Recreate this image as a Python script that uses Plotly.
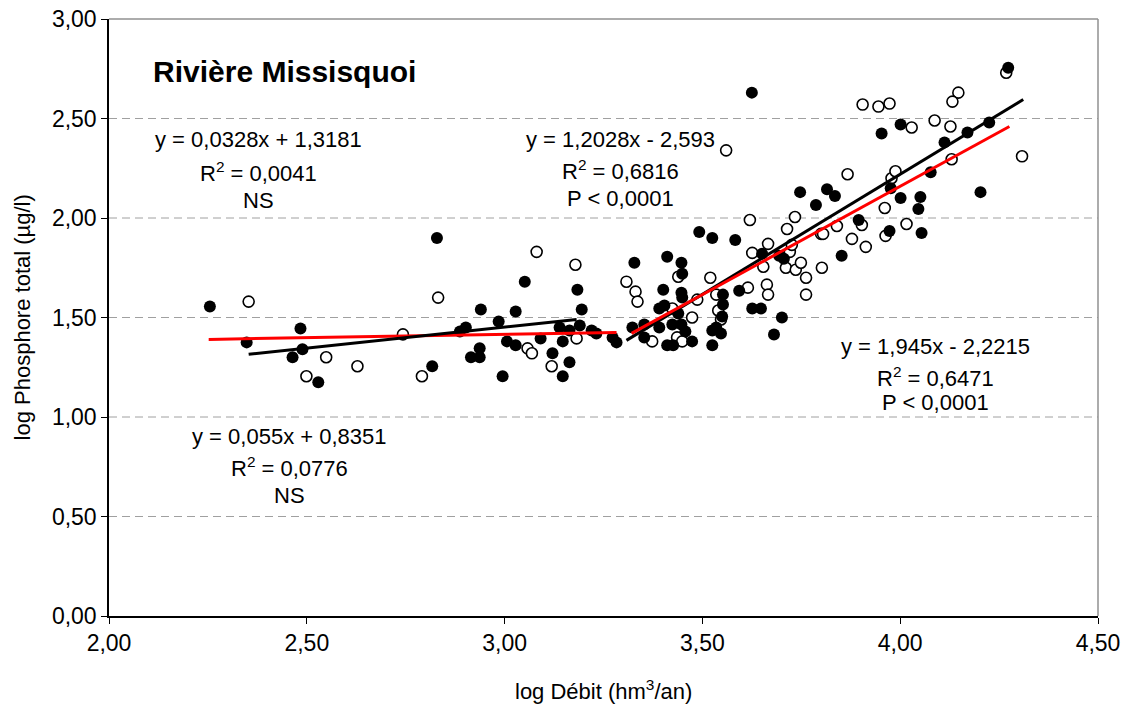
import plotly.graph_objects as go

# ---- Data ----
open_x = [2.353, 2.832, 2.549, 2.743, 2.628, 2.791, 2.499, 3.081, 3.179, 3.308,
          3.331, 3.336, 3.182, 3.058, 3.069, 3.119, 3.620, 3.666, 3.626, 3.439,
          3.520, 3.654, 3.663, 3.666, 3.615, 3.487, 3.535, 3.424, 3.540, 3.547,
          3.474, 3.373, 3.436, 3.449, 3.560, 3.867, 3.978, 3.988, 3.961, 3.734,
          3.903, 3.714, 3.840, 3.963, 3.800, 3.805, 3.878, 3.913, 3.721, 3.726,
          3.711, 3.736, 3.749, 3.802, 3.762, 3.762, 4.268, 4.147, 4.132, 3.905,
          3.945, 3.973, 4.087, 4.127, 4.029, 4.308, 4.130, 4.016]
open_y = [1.580, 1.600, 1.300, 1.415, 1.255, 1.205, 1.205, 1.830, 1.765, 1.680,
          1.630, 1.580, 1.395, 1.345, 1.320, 1.255, 1.990, 1.870, 1.825, 1.705,
          1.700, 1.755, 1.665, 1.615, 1.650, 1.590, 1.615, 1.545, 1.535, 1.490,
          1.500, 1.380, 1.400, 1.380, 2.340, 2.220, 2.200, 2.235, 2.050, 2.005,
          1.965, 1.945, 1.960, 1.910, 1.920, 1.920, 1.895, 1.855, 1.830, 1.865,
          1.750, 1.740, 1.775, 1.750, 1.700, 1.615, 2.730, 2.630, 2.585, 2.570,
          2.560, 2.575, 2.490, 2.460, 2.455, 2.310, 2.295, 1.970]

filled_x = [2.255, 2.348, 2.484, 2.489, 2.464, 2.529, 2.829, 2.817, 3.051, 3.328,
            3.184, 2.940, 3.028, 3.195, 2.985, 2.902, 2.887, 3.139, 3.164, 3.190,
            3.220, 3.232, 3.273, 3.283, 3.091, 3.006, 3.028, 3.147, 2.937, 2.915,
            2.937, 3.121, 3.164, 2.995, 3.147, 3.492, 3.525, 3.583, 3.651, 3.411,
            3.447, 3.449, 3.593, 3.401, 3.447, 3.449, 3.552, 3.552, 3.391, 3.404,
            3.439, 3.550, 3.626, 3.648, 3.681, 3.323, 3.353, 3.391, 3.424, 3.447,
            3.457, 3.525, 3.535, 3.547, 3.353, 3.474, 3.411, 3.426, 3.525, 3.953,
            3.976, 3.747, 3.815, 3.835, 3.787, 3.895, 3.973, 3.694, 3.706, 3.852,
            3.701, 4.273, 4.001, 4.225, 4.170, 4.112, 4.077, 4.001, 4.051, 4.046,
            4.203, 4.054, 3.625]
filled_y = [1.555, 1.375, 1.445, 1.340, 1.300, 1.175, 1.900, 1.255, 1.680, 1.775,
            1.640, 1.540, 1.530, 1.540, 1.480, 1.450, 1.430, 1.450, 1.435, 1.460,
            1.435, 1.420, 1.400, 1.375, 1.395, 1.380, 1.360, 1.380, 1.345, 1.300,
            1.300, 1.320, 1.275, 1.205, 1.205, 1.930, 1.900, 1.890, 1.820, 1.805,
            1.775, 1.720, 1.635, 1.640, 1.625, 1.600, 1.615, 1.565, 1.545, 1.560,
            1.520, 1.505, 1.545, 1.545, 1.415, 1.450, 1.465, 1.450, 1.465, 1.465,
            1.430, 1.435, 1.450, 1.420, 1.400, 1.380, 1.360, 1.360, 1.360, 2.425,
            2.150, 2.130, 2.145, 2.110, 2.065, 1.990, 1.935, 1.810, 1.795, 1.810,
            1.500, 2.755, 2.470, 2.480, 2.430, 2.380, 2.230, 2.100, 2.105, 2.045,
            2.130, 1.925, 2.630]

# Trend line end points (x range, y at ends)
black_left_x = [2.353, 3.182]
black_left_y = [1.315, 1.490]
red_left_x = [2.252, 3.283]
red_left_y = [1.390, 1.425]
black_right_x = [3.308, 4.311]
black_right_y = [1.385, 2.595]
red_right_x = [3.321, 4.276]
red_right_y = [1.420, 2.460]

x_ticks = [2.0, 2.5, 3.0, 3.5, 4.0, 4.5]
x_tick_labels = ["2,00", "2,50", "3,00", "3,50", "4,00", "4,50"]
y_ticks = [0.0, 0.5, 1.0, 1.5, 2.0, 2.5, 3.0]
y_tick_labels = ["0,00", "0,50", "1,00", "1,50", "2,00", "2,50", "3,00"]

title_text = "Rivière Missisquoi"
eq_blocks = [
    (2.377, [2.392, 2.231, 2.090], ["y = 0,0328x + 1,3181", "R<sup>2</sup> = 0,0041", "NS"]),
    (3.292, [2.392, 2.241, 2.100], ["y = 1,2028x - 2,593", "R<sup>2</sup> = 0,6816", "P < 0,0001"]),
    (4.090, [1.352, 1.201, 1.075], ["y = 1,945x - 2,2215", "R<sup>2</sup> = 0,6471", "P < 0,0001"]),
    (2.4575, [0.900, 0.749, 0.608], ["y = 0,055x + 0,8351", "R<sup>2</sup> = 0,0776", "NS"]),
]

FONT = "Liberation Sans, Arial, sans-serif"
TXT = 22
TICK = 23

fig = go.Figure()

fig.add_trace(go.Scatter(
    x=open_x, y=open_y, mode="markers", showlegend=False,
    marker=dict(symbol="circle", size=11, color="white",
                line=dict(color="black", width=1.6)),
))
fig.add_trace(go.Scatter(
    x=filled_x, y=filled_y, mode="markers", showlegend=False,
    marker=dict(symbol="circle", size=12, color="black",
                line=dict(color="black", width=0)),
))
for lx, ly, col in [(red_left_x, red_left_y, "#FF0000"),
                    (black_left_x, black_left_y, "black"),
                    (black_right_x, black_right_y, "black"),
                    (red_right_x, red_right_y, "#FF0000")]:
    fig.add_trace(go.Scatter(x=lx, y=ly, mode="lines", showlegend=False,
                             line=dict(color=col, width=3)))

annotations = [dict(x=2.106, y=2.734, xref="x", yref="y", text="<b>" + title_text + "</b>",
                    showarrow=False, xanchor="left", yanchor="middle",
                    font=dict(family=FONT, size=30, color="black"))]
for cx, ys, texts in eq_blocks:
    for yy, t in zip(ys, texts):
        annotations.append(dict(x=cx, y=yy, xref="x", yref="y", text=t,
                                showarrow=False, xanchor="center", yanchor="middle",
                                font=dict(family=FONT, size=TXT, color="black")))

# axis titles placed as annotations in paper coordinates
annotations.append(dict(x=0.5, y=-0.124, xref="paper", yref="paper",
                        text="log Débit (hm<sup>3</sup>/an)", showarrow=False,
                        xanchor="center", yanchor="middle",
                        font=dict(family=FONT, size=TXT, color="black")))
annotations.append(dict(x=-0.087, y=0.5, xref="paper", yref="paper",
                        text="log Phosphore total (µg/l)", showarrow=False, textangle=-90,
                        xanchor="center", yanchor="middle",
                        font=dict(family=FONT, size=TXT, color="black")))

# dashed horizontal gridlines
shapes = []
for yv in y_ticks[1:-1]:
    shapes.append(dict(type="line", xref="paper", yref="y", x0=0, x1=1, y0=yv, y1=yv,
                       line=dict(color="#A0A0A0", width=1, dash="8px,5px"), layer="below"))
# gray frame top/right
shapes.append(dict(type="line", xref="paper", yref="paper", x0=0, x1=1, y0=1, y1=1,
                   line=dict(color="#909090", width=1.5)))
shapes.append(dict(type="line", xref="paper", yref="paper", x0=1, x1=1, y0=0, y1=1,
                   line=dict(color="#909090", width=1.5)))

fig.update_layout(
    width=1124, height=704,
    margin=dict(l=109, r=26, t=19, b=88, autoexpand=False),
    paper_bgcolor="white", plot_bgcolor="white",
    font=dict(family=FONT, size=TXT, color="black"),
    annotations=annotations, shapes=shapes,
    showlegend=False,
)
fig.update_xaxes(
    range=[2.0, 4.5], tickvals=x_ticks, ticktext=x_tick_labels, automargin=False,
    showgrid=False, zeroline=False, showline=True, linecolor="black", linewidth=1.5,
    ticks="outside", ticklen=6, tickcolor="black", tickwidth=1,
    tickfont=dict(family=FONT, size=TICK, color="black"),
)
fig.update_yaxes(
    range=[0.0, 3.0], tickvals=y_ticks, ticktext=y_tick_labels, automargin=False,
    showgrid=False, zeroline=False, showline=True, linecolor="black", linewidth=1.5,
    ticks="outside", ticklen=6, tickcolor="black", tickwidth=1,
    tickfont=dict(family=FONT, size=TICK, color="black"),
)

fig.write_html("out.html",
               config={"displayModeBar": False},
               post_script="document.body.style.margin='0px';document.body.style.overflow='hidden';")
